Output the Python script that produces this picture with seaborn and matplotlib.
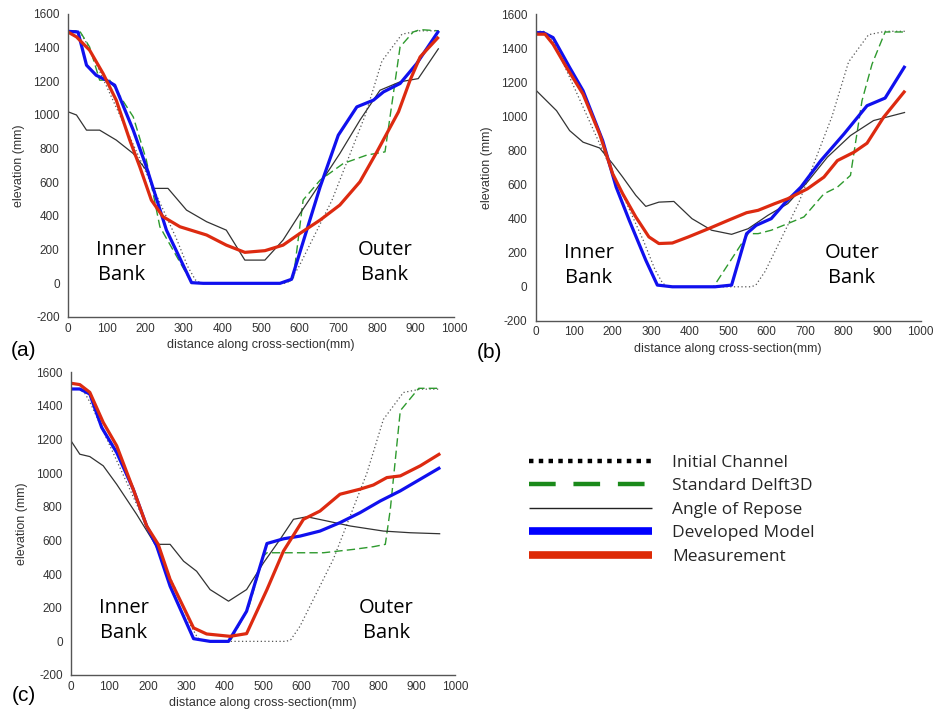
import matplotlib
matplotlib.use('Agg')
import matplotlib.pyplot as plt
from matplotlib.lines import Line2D
import seaborn as sns

sns.set_style('white')
plt.rcParams['font.family'] = ['Liberation Sans', 'DejaVu Sans']
plt.rcParams['axes.unicode_minus'] = False
plt.rcParams['lines.solid_capstyle'] = 'butt'

# ---- data (mm) ----
init_x = [0, 20, 35, 50, 100, 200, 280, 310, 330, 345, 560, 572, 596, 683, 770, 813, 865, 909, 960]
init_y = [1500, 1500, 1480, 1420, 1170, 670, 270, 100, 20, 0, 0, 10, 90, 490, 1000, 1320, 1480, 1500, 1500]

# panel (a)
a_delft_x = [0, 30, 56, 82, 108, 169, 203, 238, 320, 549, 583, 609, 653, 713, 774, 821, 860, 894, 912, 960]
a_delft_y = [1500, 1500, 1404, 1207, 1207, 989, 732, 336, 4, 0, 20, 495, 613, 712, 762, 781, 1404, 1493, 1507, 1500]
a_repose_x = [0, 22, 48, 82, 125, 169, 203, 220, 259, 307, 359, 410, 458, 510, 557, 601, 653, 704, 756, 808, 860, 907, 960]
a_repose_y = [1019, 1000, 910, 910, 851, 771, 672, 564, 564, 435, 366, 316, 138, 138, 257, 415, 593, 771, 969, 1147, 1197, 1216, 1396]
a_model_x = [0, 26, 48, 73, 99, 121, 169, 203, 255, 320, 350, 549, 579, 653, 700, 748, 791, 817, 860, 903, 960]
a_model_y = [1497, 1493, 1296, 1236, 1207, 1177, 910, 692, 316, 4, 0, 0, 24, 573, 880, 1048, 1088, 1137, 1187, 1305, 1500]
a_meas_x = [0, 22, 56, 91, 125, 160, 186, 216, 246, 290, 359, 410, 458, 510, 557, 601, 653, 704, 756, 800, 856, 886, 912, 960]
a_meas_y = [1493, 1464, 1385, 1246, 1088, 851, 692, 494, 396, 336, 287, 227, 184, 194, 227, 297, 376, 465, 603, 781, 1019, 1207, 1345, 1464]

# panel (b)
b_delft_x = [0, 20, 45, 88, 123, 174, 209, 243, 286, 316, 355, 462, 552, 578, 612, 655, 697, 749, 784, 818, 848, 874, 908, 960]
b_delft_y = [1495, 1495, 1463, 1288, 1151, 858, 585, 390, 156, 10, 0, 0, 312, 312, 332, 371, 410, 546, 585, 654, 1093, 1307, 1496, 1496]
b_repose_x = [0, 54, 88, 123, 166, 200, 226, 260, 286, 320, 359, 406, 457, 509, 552, 603, 655, 706, 758, 818, 878, 960]
b_repose_y = [1155, 1034, 917, 849, 815, 722, 644, 537, 472, 497, 501, 400, 332, 308, 341, 419, 488, 615, 761, 888, 976, 1024]
b_model_x = [0, 20, 45, 88, 123, 174, 209, 243, 286, 316, 355, 466, 509, 548, 573, 612, 646, 689, 741, 801, 861, 908, 960]
b_model_y = [1492, 1492, 1463, 1288, 1151, 858, 585, 390, 156, 10, 0, 0, 10, 312, 361, 400, 488, 585, 741, 897, 1063, 1108, 1297]
b_meas_x = [0, 24, 45, 80, 123, 166, 200, 226, 260, 294, 320, 355, 397, 449, 500, 548, 578, 621, 655, 706, 749, 784, 827, 861, 904, 960]
b_meas_y = [1483, 1483, 1424, 1288, 1131, 897, 663, 546, 410, 293, 254, 257, 293, 341, 390, 435, 449, 488, 517, 575, 644, 741, 790, 843, 995, 1151]

# panel (c)
c_delft_x = [0, 23, 49, 80, 119, 162, 197, 223, 258, 293, 319, 362, 414, 462, 501, 510, 657, 735, 787, 818, 831, 857, 905, 961]
c_delft_y = [1501, 1501, 1471, 1272, 1123, 905, 686, 567, 328, 149, 16, 0, 0, 199, 507, 527, 527, 547, 563, 577, 785, 1372, 1505, 1505]
c_repose_x = [0, 23, 49, 84, 119, 171, 219, 258, 293, 327, 362, 410, 457, 501, 544, 579, 614, 666, 727, 813, 883, 961]
c_repose_y = [1193, 1113, 1099, 1044, 934, 755, 577, 577, 477, 417, 308, 239, 308, 467, 606, 726, 741, 716, 686, 656, 646, 640]
c_model_x = [0, 23, 49, 80, 119, 162, 197, 223, 258, 293, 319, 362, 410, 457, 510, 553, 596, 648, 700, 752, 805, 857, 961]
c_model_y = [1501, 1501, 1471, 1272, 1123, 905, 686, 567, 328, 149, 16, 0, 0, 179, 582, 610, 626, 656, 706, 765, 835, 895, 1034]
c_meas_x = [0, 23, 49, 84, 119, 162, 197, 227, 258, 319, 353, 414, 457, 510, 553, 605, 648, 700, 752, 787, 822, 857, 909, 961]
c_meas_y = [1535, 1527, 1481, 1302, 1163, 905, 686, 577, 368, 80, 44, 30, 46, 308, 537, 726, 775, 875, 905, 930, 974, 984, 1044, 1117]

labels = ['Initial Channel', 'Standard Delft3D', 'Angle of Repose', 'Developed Model', 'Measurement']
panels = [
    ('(a)', (0.011, 0.508), [0.0727, 0.5554, 0.4130, 0.4250], a_delft_x, a_delft_y,
     a_repose_x, a_repose_y, a_model_x, a_model_y, a_meas_x, a_meas_y),
    ('(b)', (0.510, 0.506), [0.5730, 0.5500, 0.4115, 0.4300], b_delft_x, b_delft_y,
     b_repose_x, b_repose_y, b_model_x, b_model_y, b_meas_x, b_meas_y),
    ('(c)', (0.013, 0.024), [0.0759, 0.0533, 0.4110, 0.4245], c_delft_x, c_delft_y,
     c_repose_x, c_repose_y, c_model_x, c_model_y, c_meas_x, c_meas_y),
]

fig = plt.figure(figsize=(9.35, 7.13), dpi=100)
axis_col = '#555555'
txt_col = '#333333'

for tag, tag_xy, rect, dx, dy, rx, ry, mx, my, ex, ey in panels:
    ax = fig.add_axes(rect)
    kw = dict(ax=ax, sort=False, estimator=None)
    sns.lineplot(x=init_x, y=init_y, color='#555555', lw=0.9, linestyle=(0, (1, 2)), **kw)
    sns.lineplot(x=dx, y=dy, color='#2e9a2e', lw=1.0, linestyle=(0, (6, 3)), **kw)
    sns.lineplot(x=rx, y=ry, color='#333333', lw=0.9, **kw)
    sns.lineplot(x=mx, y=my, color='#1010ee', lw=2.3, **kw)
    sns.lineplot(x=ex, y=ey, color='#dd2a10', lw=2.3, **kw)

    ax.set_xlim(0, 1000)
    ax.set_ylim(-200, 1600)
    ax.set_xticks(range(0, 1001, 100))
    ax.set_yticks(range(-200, 1601, 200))
    for s in ['top', 'right']:
        ax.spines[s].set_visible(False)
    for s in ['left', 'bottom']:
        ax.spines[s].set_color(axis_col)
        ax.spines[s].set_linewidth(1.0)
    ax.tick_params(direction='in', length=4, color=axis_col, labelsize=8.5,
                   labelcolor=txt_col)
    ax.tick_params(axis='y', pad=6)
    ax.tick_params(axis='x', pad=4)
    ax.set_xlabel('distance along cross-section(mm)', fontsize=9, color=txt_col, labelpad=3)
    ax.set_ylabel('elevation (mm)', fontsize=9, color=txt_col, labelpad=6)

    bank_font = dict(fontsize=14.5, family=['Open Sans', 'DejaVu Sans'], color='black',
                     ha='center', va='center', linespacing=1.3)
    ax.text(138, 125, 'Inner\nBank', **bank_font)
    ax.text(821, 125, 'Outer\nBank', **bank_font)

    fig.text(tag_xy[0], tag_xy[1], tag, fontsize=15, ha='left', va='center', color='black')

handles = [
    Line2D([], [], color='black', lw=3.2, linestyle=(0, (1, 1.2))),
    Line2D([], [], color='#1a8a1a', lw=3.2, linestyle=(0, (6, 4))),
    Line2D([], [], color='#222222', lw=1.0),
    Line2D([], [], color='#0000ff', lw=5.5),
    Line2D([], [], color='#dd2a06', lw=5.5),
]
fig.legend(handles, labels, loc='upper left', bbox_to_anchor=(0.549, 0.384), frameon=False,
           handlelength=7.1, handletextpad=1.15, labelspacing=0.42,
           prop={'family': ['Open Sans', 'DejaVu Sans'], 'size': 12.5})

fig.savefig('out.png', dpi=100)
